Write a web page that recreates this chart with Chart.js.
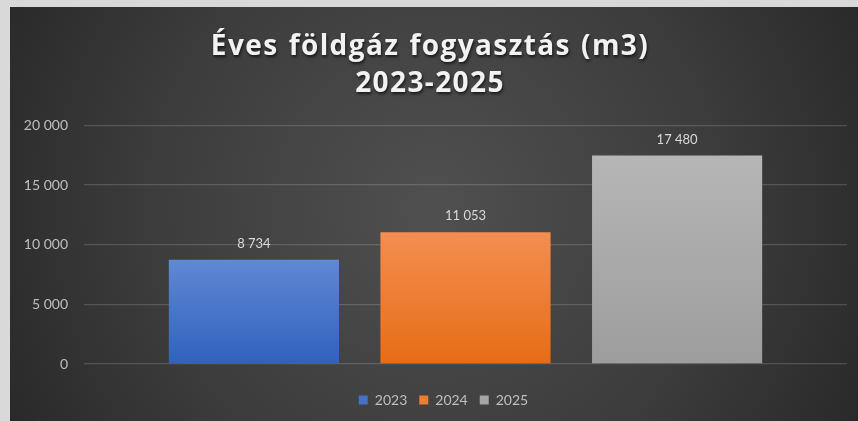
<!DOCTYPE html>
<html>
<head>
<meta charset="utf-8">
<script src="https://cdn.jsdelivr.net/npm/chart.js@4"></script>
<style>
  html, body { margin: 0; padding: 0; background: #d9d9d9; }
  body { width: 858px; height: 421px; position: relative; overflow: hidden; }
  #wrap { position: absolute; left: 10px; top: 7px; width: 848px; height: 414px; }
</style>
</head>
<body>
<div id="wrap"><canvas id="grafikon"></canvas></div>
<script>
// adatok
const cimSorok = ["Éves földgáz fogyasztás (m3)", "2023-2025"];
const kategoriak = [""];
const evek = ["2023", "2024", "2025"];
const fogyasztas = [8734, 11053, 17480];
const yTengely = [0, 5000, 10000, 15000, 20000];

const alapSzinek = ["#4472c4", "#ed7d31", "#a5a5a5"];
const felsoSzinek = ["#6088d4", "#f38e52", "#b6b6b6"];
const alsoSzinek = ["#2f62bd", "#e76c16", "#9d9d9d"];

const betu = "Lato, 'Open Sans', sans-serif";
const cimBetu = "'Open Sans', Lato, sans-serif";
const cimMeret = 28, cimSorkoz = 1.33;

// ezres tagolás szóközzel
function szam(v) {
    return String(v).replace(/\B(?=(\d{3})+(?!\d))/g, " ");
}

// háttér: sötét, középen világosabb
const hatter = {
    id: "hatter",
    beforeDraw(chart) {
        const c = chart.ctx;
        const w = chart.width, h = chart.height;
        const g = c.createRadialGradient(w * 0.5, h * 0.48, 10, w * 0.5, h * 0.48, w * 0.6);
        g.addColorStop(0, "#4f4f4f");
        g.addColorStop(0.55, "#3c3c3c");
        g.addColorStop(1, "#262626");
        c.save();
        c.fillStyle = g;
        c.fillRect(0, 0, w, h);
        c.restore();
    }
};

// a jelmagyarázat kicsit jobbra, mint az eredetin
const jelmagyarazat = {
    id: "jelmagyarazat",
    afterLayout(chart) {
        chart.legend.left += 15;
        chart.legend.right += 15;
    }
};

// cím ritkított betűkkel és árnyékkal (a title plugin csak helyet foglal)
const cim = {
    id: "cim",
    afterDraw(chart) {
        const tb = chart.titleBlock;
        const opts = chart.options.plugins.title;
        const lh = cimMeret * cimSorkoz;
        const c = chart.ctx;
        c.save();
        c.font = "bold " + cimMeret + "px " + cimBetu;
        c.letterSpacing = "1.4px";
        c.wordSpacing = "1.5px";
        c.fillStyle = "#f2f2f2";
        c.textAlign = "center";
        c.textBaseline = "middle";
        c.shadowColor = "rgba(0,0,0,0.65)";
        c.shadowBlur = 3;
        c.shadowOffsetX = 1;
        c.shadowOffsetY = 2;
        const x = tb.left + tb.width / 2 + 1.5;
        cimSorok.forEach((sor, i) => {
            c.fillText(sor, x, tb.top + opts.padding.top + lh / 2 + i * lh);
        });
        c.restore();
    }
};

// értékcímkék az oszlopok fölé
const ertekek = {
    id: "ertekek",
    afterDatasetsDraw(chart) {
        const c = chart.ctx;
        c.save();
        c.font = "13px " + betu;
        c.fillStyle = "#d9d9d9";
        c.textAlign = "center";
        c.textBaseline = "alphabetic";
        chart.data.datasets.forEach((ds, i) => {
            const meta = chart.getDatasetMeta(i);
            meta.data.forEach((bar, j) => {
                c.fillText(szam(ds.data[j]), bar.x, bar.y - 12);
            });
        });
        c.restore();
    }
};

function szinatmenet(i) {
    return function (context) {
        const chart = context.chart;
        if (!chart.chartArea) return alapSzinek[i];
        const y = chart.scales.y;
        const teteje = y.getPixelForValue(fogyasztas[i]);
        const alja = y.getPixelForValue(0);
        const g = chart.ctx.createLinearGradient(0, teteje, 0, alja);
        g.addColorStop(0, felsoSzinek[i]);
        g.addColorStop(1, alsoSzinek[i]);
        return g;
    };
}

const ctx = document.getElementById("grafikon").getContext("2d");
const grafikon = new Chart(ctx, {
    type: "bar",
    data: {
        labels: kategoriak,
        datasets: evek.map((ev, i) => ({
            label: ev,
            data: [fogyasztas[i]],
            backgroundColor: szinatmenet(i),
            borderWidth: 0,
            categoryPercentage: 0.832,
            barPercentage: 0.804
        }))
    },
    options: {
        responsive: true,
        maintainAspectRatio: false,
        animation: false,
        layout: { padding: { left: 0, right: 11, top: 0, bottom: 4 } },
        plugins: {
            title: {
                display: true,
                text: cimSorok,
                color: "rgba(0,0,0,0)",
                font: { family: cimBetu, size: cimMeret, weight: "bold", lineHeight: cimSorkoz },
                padding: { top: 21, bottom: 23 }
            },
            legend: {
                position: "bottom",
                labels: {
                    color: "#bfbfbf",
                    font: { family: betu, size: 14 },
                    boxWidth: 9,
                    boxHeight: 9,
                    padding: 12,
                    generateLabels(chart) {
                        return evek.map((ev, i) => ({
                            text: ev,
                            fillStyle: alapSzinek[i],
                            strokeStyle: alapSzinek[i],
                            lineWidth: 0,
                            fontColor: "#bfbfbf",
                            datasetIndex: i
                        }));
                    }
                }
            },
            tooltip: { enabled: false }
        },
        scales: {
            x: {
                ticks: { display: false },
                grid: { display: false },
                border: { display: false },
                afterFit(scale) { scale.height = 17; }
            },
            y: {
                min: yTengely[0],
                max: yTengely[yTengely.length - 1],
                afterBuildTicks(scale) {
                    scale.ticks = yTengely.map(v => ({ value: v }));
                },
                ticks: {
                    color: "#bfbfbf",
                    font: { family: betu, size: 14 },
                    padding: 16,
                    callback: v => szam(v)
                },
                grid: {
                    color: "rgba(255,255,255,0.16)",
                    lineWidth: 1.3,
                    drawTicks: false
                },
                border: { display: false },
                afterFit(scale) { scale.width = 74; }
            }
        }
    },
    plugins: [hatter, jelmagyarazat, ertekek, cim]
});
</script>
</body>
</html>
